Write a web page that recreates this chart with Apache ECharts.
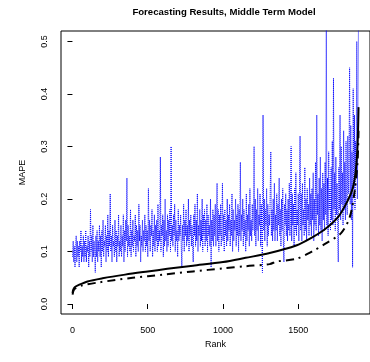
<!DOCTYPE html>
<html>
<head>
<meta charset="utf-8">
<script src="https://cdn.jsdelivr.net/npm/echarts@6/dist/echarts.min.js"></script>
<style>
html,body{margin:0;padding:0;background:#fff;}
#chart{width:370px;height:362px;}
</style>
</head>
<body>
<div id="chart"></div>
<script>
// MAPE per series (ranks 1..1900, evenly spaced)
var blueMape = [
	0.09,0.12,0.08,0.11,0.07,0.10,0.13,0.08,0.12,0.09,0.11,0.07,0.12,0.10,0.14,0.08,0.11,0.09,0.13,0.08,
	0.12,0.09,0.14,0.08,0.11,0.10,0.13,0.07,0.12,0.09,0.18,0.10,0.13,0.08,0.15,0.09,0.12,0.10,0.06,0.13,
	0.09,0.14,0.08,0.12,0.10,0.15,0.09,0.13,0.07,0.14,0.10,0.16,0.09,0.12,0.11,0.15,0.08,0.13,0.10,0.17,
	0.09,0.14,0.11,0.21,0.10,0.13,0.08,0.15,0.11,0.12,0.09,0.16,0.10,0.14,0.08,0.13,0.11,0.17,0.09,0.12,
	0.10,0.15,0.09,0.13,0.11,0.17,0.08,0.14,0.10,0.16,0.12,0.24,0.09,0.15,0.11,0.13,0.10,0.18,0.09,0.14,
	0.11,0.16,0.10,0.13,0.12,0.17,0.09,0.15,0.11,0.14,0.10,0.19,0.12,0.15,0.08,0.13,0.11,0.16,0.10,0.14,
	0.12,0.17,0.10,0.15,0.11,0.14,0.09,0.22,0.12,0.16,0.10,0.15,0.13,0.18,0.09,0.14,0.11,0.17,0.10,0.15,
	0.12,0.16,0.10,0.19,0.11,0.14,0.12,0.28,0.10,0.15,0.13,0.17,0.09,0.16,0.11,0.20,0.12,0.14,0.10,0.17,
	0.11,0.16,0.13,0.18,0.10,0.30,0.12,0.15,0.11,0.17,0.13,0.19,0.10,0.16,0.12,0.14,0.09,0.18,0.12,0.15,
	0.13,0.17,0.11,0.07,0.15,0.12,0.19,0.10,0.16,0.13,0.18,0.11,0.15,0.12,0.20,0.10,0.16,0.13,0.17,0.11,
	0.15,0.12,0.08,0.17,0.13,0.19,0.11,0.16,0.12,0.21,0.10,0.15,0.13,0.18,0.11,0.16,0.12,0.20,0.10,0.17,
	0.13,0.18,0.11,0.16,0.12,0.19,0.10,0.17,0.13,0.15,0.11,0.20,0.07,0.16,0.12,0.18,0.11,0.17,0.13,0.19,
	0.11,0.16,0.23,0.12,0.18,0.10,0.17,0.13,0.19,0.11,0.15,0.23,0.12,0.17,0.10,0.18,0.13,0.16,0.11,0.20,
	0.12,0.17,0.14,0.19,0.11,0.16,0.13,0.21,0.10,0.18,0.12,0.16,0.14,0.20,0.11,0.17,0.13,0.19,0.10,0.18,
	0.13,0.27,0.12,0.17,0.14,0.20,0.11,0.18,0.13,0.16,0.10,0.21,0.12,0.17,0.14,0.19,0.11,0.22,0.13,0.16,
	0.12,0.19,0.14,0.17,0.30,0.13,0.20,0.11,0.18,0.14,0.22,0.12,0.17,0.15,0.21,0.11,0.19,0.13,0.06,0.36,
	0.14,0.20,0.12,0.18,0.15,0.22,0.11,0.19,0.13,0.17,0.15,0.21,0.29,0.13,0.18,0.12,0.20,0.14,0.23,0.12,
	0.17,0.14,0.21,0.12,0.19,0.15,0.24,0.13,0.18,0.11,0.20,0.14,0.22,0.12,0.08,0.19,0.15,0.21,0.13,0.18,
	0.12,0.20,0.14,0.23,0.13,0.17,0.30,0.12,0.21,0.15,0.19,0.11,0.22,0.14,0.25,0.13,0.18,0.15,0.21,0.12,
	0.19,0.32,0.14,0.21,0.12,0.23,0.15,0.18,0.13,0.26,0.14,0.20,0.12,0.22,0.16,0.19,0.13,0.24,0.15,0.21,
	0.13,0.22,0.16,0.25,0.12,0.20,0.15,0.27,0.14,0.36,0.17,0.21,0.13,0.24,0.15,0.28,0.14,0.22,0.12,0.25,
	0.16,0.23,0.14,0.27,0.17,0.56,0.15,0.24,0.13,0.29,0.18,0.22,0.14,0.26,0.16,0.31,0.15,0.43,0.18,0.25,
	0.14,0.28,0.17,0.23,0.15,0.08,0.26,0.18,0.36,0.16,0.30,0.19,0.25,0.15,0.33,0.18,0.27,0.16,0.31,0.20,
	0.17,0.32,0.21,0.27,0.45,0.19,0.34,0.16,0.29,0.07,0.41,0.22,0.36,0.18,0.31,0.24,0.50,0.20,0.38,0.56
];
var firstRank = 1;
var lastRank = 1900;

// sorted MAPE, solid black
var solidRank = [1,5,15,40,100,200,350,500,630,800,1000,1150,1310,1490,1580,1670,1765,1830,1862,1880,1893,1900];
var solidMape = [0.021,0.027,0.032,0.036,0.043,0.049,0.056,0.062,0.067,0.073,0.080,0.088,0.097,0.112,0.125,0.141,0.166,0.198,0.221,0.25,0.30,0.375];

// sorted MAPE, black dot-dash
var dashRank = [1,8,25,60,170,400,600,800,1000,1150,1310,1356,1485,1590,1686,1784,1842,1875,1893,1900];
var dashMape = [0.018,0.026,0.031,0.035,0.041,0.050,0.056,0.062,0.068,0.072,0.076,0.081,0.086,0.100,0.116,0.135,0.166,0.217,0.27,0.33];

var xTicks = [0,500,1000,1500];
var yTicks = [0,0.1,0.2,0.3,0.4,0.5];

function pairs(xs,ys){
	var out = [];
	for(var i = 0; i < ys.length; i++){
		out.push([xs[i],ys[i]]);
	}
	return out;
}

var blueData = [];
for(var i = 0; i < blueMape.length; i++){
	blueData.push([firstRank + i*(lastRank-firstRank)/(blueMape.length-1), blueMape[i]]);
}

var FONT = 'Liberation Sans';

var myChart = echarts.init(document.getElementById('chart'), null, {renderer:'canvas'});
myChart.setOption({
	animation:false,
	title:{
		text:'Forecasting Results, Middle Term Model',
		left:219,
		top:2,
		textAlign:'center',
		textStyle:{fontFamily:FONT,fontSize:9.6,fontWeight:'bold',color:'#000'}
	},
	grid:{
		left:61,
		top:31,
		right:-8,
		bottom:48,
		show:true,
		borderColor:'#000',
		borderWidth:1,
		backgroundColor:'transparent'
	},
	xAxis:{
		type:'value',
		min:-76,
		max:1976,
		name:'Rank',
		nameLocation:'middle',
		nameGap:24,
		nameTextStyle:{fontFamily:FONT,fontSize:9,color:'#000'},
		axisLine:{show:false},
		axisTick:{show:true,inside:false,length:5,customValues:xTicks,lineStyle:{color:'#000'}},
		axisLabel:{
			customValues:xTicks,
			margin:12,
			fontFamily:FONT,
			fontSize:9,
			color:'#000',
			formatter:function(v){ return String(v); }
		},
		splitLine:{show:false}
	},
	yAxis:{
		type:'value',
		min:-0.019,
		max:0.52,
		name:'MAPE',
		nameLocation:'middle',
		nameRotate:90,
		nameGap:34,
		nameTextStyle:{fontFamily:FONT,fontSize:9,color:'#000'},
		axisLine:{show:false},
		axisTick:{show:true,inside:false,length:5,customValues:yTicks,lineStyle:{color:'#000'}},
		axisLabel:{
			customValues:yTicks,
			rotate:90,
			margin:12,
			fontFamily:FONT,
			fontSize:9,
			color:'#000',
			formatter:function(v){ return v.toFixed(1); }
		},
		splitLine:{show:false}
	},
	series:[
		{
			type:'line',
			data:blueData,
			showSymbol:false,
			clip:true,
			lineStyle:{color:'#0000ff',width:1,type:[1,1]},
			z:2
		},
		{
			type:'line',
			data:pairs(solidRank,solidMape),
			showSymbol:false,
			smooth:0.3,
			clip:true,
			lineStyle:{color:'#000',width:2},
			z:3
		},
		{
			type:'line',
			data:pairs(dashRank,dashMape),
			showSymbol:false,
			smooth:0.3,
			clip:true,
			lineStyle:{color:'#000',width:2,type:[8,5,2,5]},
			z:3
		}
	]
});
</script>
</body>
</html>
